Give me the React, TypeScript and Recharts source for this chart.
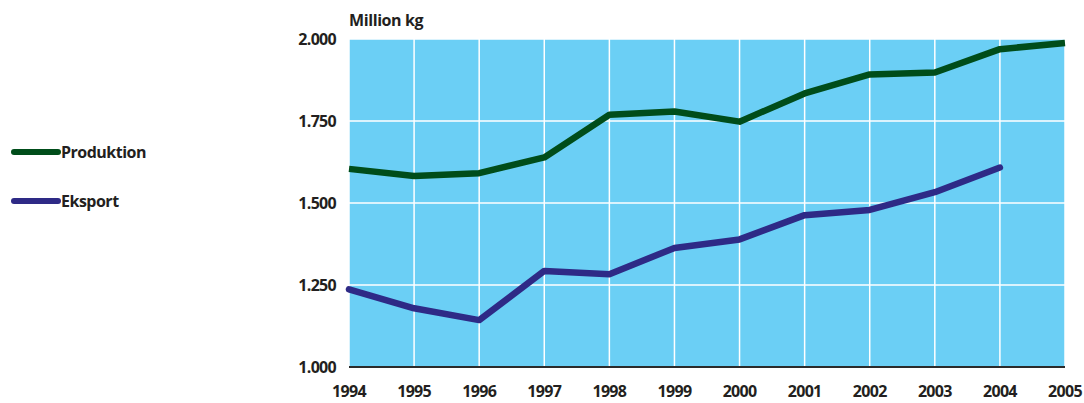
import { CartesianGrid, Line, LineChart, XAxis, YAxis } from 'recharts';

const years = [1994, 1995, 1996, 1997, 1998, 1999, 2000, 2001, 2002, 2003, 2004, 2005];
const produktion = [1604, 1582, 1591, 1639, 1769, 1779, 1748, 1834, 1892, 1898, 1969, 1988];
const eksport = [1237, 1179, 1143, 1293, 1283, 1363, 1389, 1463, 1479, 1533, 1608, null];
const yTicks = [1000, 1250, 1500, 1750, 2000];
const legendItems = [
  { name: 'Produktion', color: '#004d1a' },
  { name: 'Eksport', color: '#2e2a86' },
];

const data = years.map((year, i) => ({ year, produktion: produktion[i], eksport: eksport[i] }));

const font = "'Open Sans', sans-serif";
const TEXT = '#231f20';
const tickStyle = { fill: TEXT, fontFamily: font, fontWeight: 700, fontSize: 16, letterSpacing: -0.7 };

const fmtY = (v: number) => {
  const s = String(v);
  return s.slice(0, 1) + '.' + s.slice(1);
};

export default function App() {
  return (
    <div style={{ position: 'absolute', left: 0, top: 0, width: 1084, height: 403, background: '#fff' }}>
      <div
        style={{
          position: 'absolute',
          left: 349,
          top: 9,
          fontFamily: font,
          fontWeight: 700,
          fontSize: 16,
          letterSpacing: -0.4,
          color: TEXT,
        }}
      >
        Million kg
      </div>
      <div
        style={{
          position: 'absolute',
          left: 8,
          top: 141,
          fontFamily: font,
          fontWeight: 700,
          fontSize: 16,
          letterSpacing: -0.5,
          color: TEXT,
        }}
      >
        {legendItems.map((item, i) => (
          <div key={item.name} style={{ display: 'flex', alignItems: 'center', height: 22, marginBottom: i === 0 ? 27 : 0 }}>
            <svg width={53} height={10}>
              <line x1={6} y1={5} x2={50} y2={5} stroke={item.color} strokeWidth={6} strokeLinecap="round" />
            </svg>
            <span>{item.name}</span>
          </div>
        ))}
      </div>
      <LineChart width={1084} height={403} data={data} margin={{ top: 39, right: 19, bottom: 0, left: 289 }}>
        <CartesianGrid fill="#6bcff5" stroke="#ffffff" strokeWidth={1.5} />
        <XAxis
          dataKey="year"
          type="number"
          domain={[1994, 2005]}
          ticks={years}
          tickSize={0}
          tickMargin={19}
          height={36}
          axisLine={{ stroke: '#2b2b2b', strokeWidth: 2 }}
          tickLine={false}
          tick={tickStyle}
          interval={0}
        />
        <YAxis
          type="number"
          domain={[1000, 2000]}
          ticks={yTicks}
          width={60}
          tickSize={0}
          tickMargin={13}
          axisLine={false}
          tickLine={false}
          tickFormatter={fmtY}
          tick={tickStyle}
        />
        <Line
          dataKey="produktion"
          stroke={legendItems[0].color}
          strokeWidth={6.5}
          dot={false}
          isAnimationActive={false}
          strokeLinejoin="round"
        />
        <Line
          dataKey="eksport"
          stroke={legendItems[1].color}
          strokeWidth={6.5}
          dot={false}
          isAnimationActive={false}
          strokeLinecap="round"
          strokeLinejoin="round"
        />
      </LineChart>
    </div>
  );
}
